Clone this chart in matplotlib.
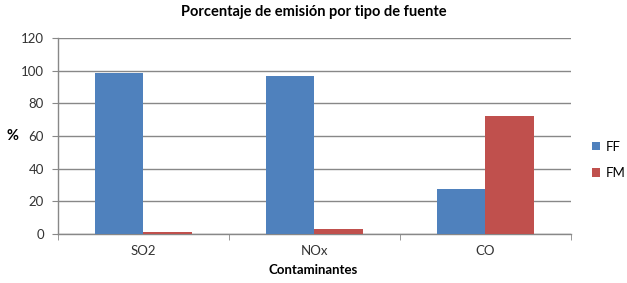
import matplotlib
matplotlib.use("Agg")
import matplotlib.pyplot as plt
import numpy as np

categories = ["SO2", "NOx", "CO"]
ff_values = [98.5, 96.5, 27.5]
fm_values = [1.0, 3.0, 72.5]
series_names = ["FF", "FM"]
yticks = [0, 20, 40, 60, 80, 100, 120]

plt.rcParams['font.family'] = ['Lato', 'DejaVu Sans']

fig = plt.figure(figsize=(6.27, 2.83), dpi=100)
ax = fig.add_axes([0.0925, 0.173, 0.818, 0.693])

x = np.arange(len(categories))
w = 0.286
ax.bar(x - w/2, ff_values, w, color="#4F81BD", label=series_names[0], zorder=3)
ax.bar(x + w/2, fm_values, w, color="#C0504D", label=series_names[1], zorder=3)

ax.set_xlim(-0.5, len(categories) - 0.5)
ax.set_ylim(0, 120)
ax.set_yticks(yticks)
ax.set_yticklabels([str(v) for v in yticks], fontsize=9.5, color="#333333")
ax.yaxis.grid(True, color="#888888", linewidth=1)
ax.set_axisbelow(True)

ax.set_xticks(x)
ax.set_xticklabels(categories, fontsize=9.5, color="#333333")
ax.tick_params(axis='x', length=0, pad=8)
ax.set_xticks(np.arange(-0.5, len(categories), 1), minor=True)
ax.tick_params(axis='x', which='minor', length=4, color="#888888", direction='out')
ax.tick_params(axis='y', length=4, color="#888888", direction='out', pad=6)

for s in ["top", "right"]:
    ax.spines[s].set_visible(False)
for s in ["left", "bottom"]:
    ax.spines[s].set_color("#888888")
    ax.spines[s].set_linewidth(1)

fig.text(0.5, 0.958, "Porcentaje de emisión por tipo de fuente", ha="center", va="center",
         fontsize=10.5, fontweight="bold")
fig.text(0.5, 0.045, "Contaminantes", ha="center", va="center", fontsize=9.5, fontweight="bold")
fig.text(0.02, 0.52, "%", ha="center", va="center", fontsize=10.5, fontweight="bold")

leg = fig.legend(loc="center left", bbox_to_anchor=(0.936, 0.435), frameon=False,
                 fontsize=9.5, handlelength=0.6, handleheight=0.6, handletextpad=0.4,
                 labelspacing=1.1, borderaxespad=0)

fig.savefig("out.png", dpi=100)
